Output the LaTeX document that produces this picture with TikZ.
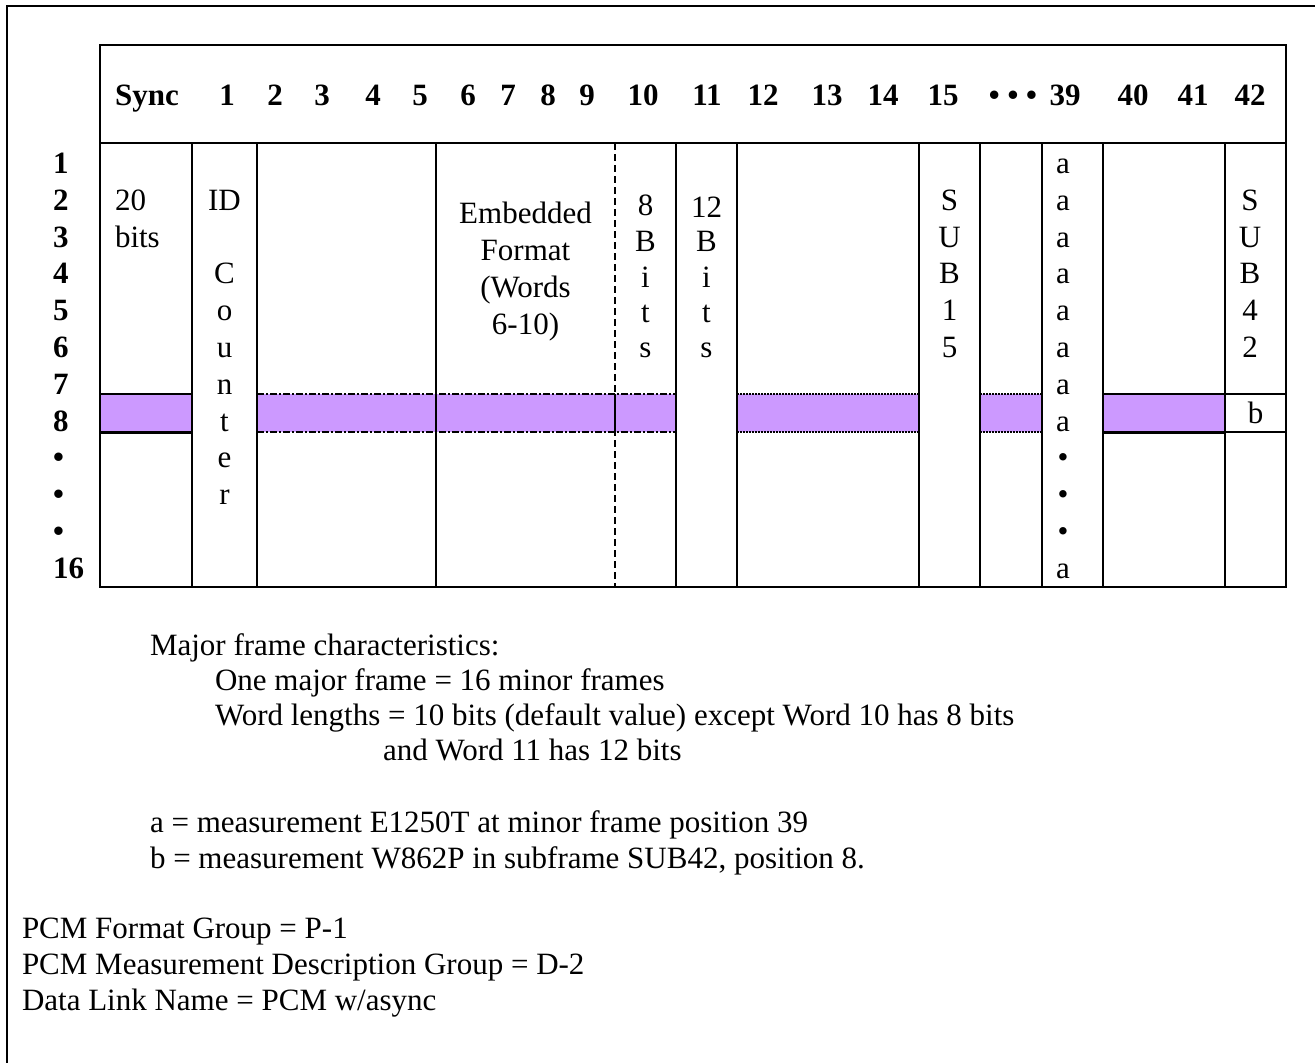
\documentclass[tikz,border=0pt]{standalone}
\usepackage{fontspec}
\setmainfont{Liberation Serif}
\definecolor{bandpurple}{HTML}{CC99FF}
\begin{document}
\begin{tikzpicture}[x=1pt,y=-1pt,
  font=\fontsize{31}{36}\selectfont,
  every node/.style={inner sep=0pt,outer sep=0pt},
  tline/.style={line width=2pt},
  hdr/.style={anchor=base,font=\fontsize{31}{36}\selectfont\bfseries},
  rowlbl/.style={anchor=base west,font=\fontsize{31}{36}\selectfont\bfseries},
  cell/.style={anchor=base},
  lcell/.style={anchor=base west},
  dashdotline/.style={line width=2pt,dash pattern=on 7pt off 2pt on 2pt off 2pt},
  dotline/.style={line width=2pt,dash pattern=on 2pt off 1pt},
  vdash/.style={line width=2pt,dash pattern=on 7pt off 4pt}]
\useasboundingbox (0,0) rectangle (1315,1063);
\clip (0,0) rectangle (1315,1063);
% outer frame
\draw[line width=2pt] (7,1080) -- (7,6) -- (1330,6);
% band fills
\fill[bandpurple] (100,394) rectangle (192,432);
\fill[bandpurple] (257,394) rectangle (676,432);
\fill[bandpurple] (737,394) rectangle (919,432);
\fill[bandpurple] (980,394) rectangle (1042,432);
\fill[bandpurple] (1103,394) rectangle (1225,432);
% band lines
\draw[tline] (100,394) -- (192,394);
\draw[line width=3pt] (100,432) -- (192,432);
\draw[dashdotline] (257,394) -- (676,394);
\draw[dashdotline] (257,432) -- (676,432);
\draw[dotline] (737,394) -- (919,394);
\draw[dotline] (737,432) -- (919,432);
\draw[dotline] (980,394) -- (1042,394);
\draw[dotline] (980,432) -- (1042,432);
\draw[tline] (1103,394) -- (1286,394);
\draw[line width=3pt] (1103,432) -- (1225,432);
\draw[tline] (1225,432) -- (1286,432);
% table
\draw[tline] (100,45) rectangle (1286,587);
\draw[tline] (100,143) -- (1286,143);
\foreach \x in {192,257,436,676,737,919,980,1042,1103,1225}
  \draw[tline] (\x,143) -- (\x,587);
\draw[vdash] (615,143) -- (615,587);
\draw[tline] (615,394) -- (615,432);
% header labels
\foreach \t/\x [count=\i] in {Sync/147,1/227,2/275,3/322,4/373,5/420,6/468,7/508,8/548,9/587,10/643,11/707,12/763,13/827,14/883,15/943,{• • •}/1013,39/1065,40/1133,41/1193,42/1250}
  \node[hdr] (h\i) at (\x,105) {\t};
% row labels
\foreach \t [count=\i] in {1,2,3,4,5,6,7,8,•,•,•,16}
  \node[rowlbl] (r\i) at (53,{173.4+(\i-1)*36.8}) {\t};
% sync column
\node[lcell] (sync1) at (115,210.2) {20};
\node[lcell] (sync2) at (115,247) {bits};
% ID counter
\foreach \t/\r [count=\i] in {ID/2,C/4,o/5,u/6,n/7,t/8,e/9,r/10}
  \node[cell] (id\i) at (224.5,{173.4+(\r-1)*36.8}) {\t};
% embedded format
\node[cell] (emb1) at (525.5,223) {Embedded};
\node[cell] (emb2) at (525.5,260) {Format};
\node[cell] (emb3) at (525.5,297) {(Words};
\node[cell] (emb4) at (525.5,334) {6-10)};
% 8 bits
\foreach \t/\y [count=\i] in {8/215,B/251,i/287,t/322,s/357}
  \node[cell] (eight\i) at (645.5,\y) {\t};
% 12 bits
\foreach \t/\y [count=\i] in {12/217,B/251,i/287,t/322,s/357}
  \node[cell] (twelve\i) at (706.5,\y) {\t};
% SUB15
\foreach \t [count=\i] in {S,U,B,1,5}
  \node[cell] (subA\i) at (949.5,{173.4+\i*36.8}) {\t};
% a column
\foreach \t [count=\i] in {a,a,a,a,a,a,a,a,•,•,•,a}
  \node[cell] (acol\i) at (1063,{173.4+(\i-1)*36.8}) {\t};
% SUB42
\foreach \t [count=\i] in {S,U,B,4,2}
  \node[cell] (subB\i) at (1250,{173.4+\i*36.8}) {\t};
\node[cell] (bcell) at (1255.5,423) {b};
% notes
\node[lcell] (n1) at (150,655) {Major frame characteristics:};
\node[lcell] (n2) at (215,690) {One major frame = 16 minor frames};
\node[lcell] (n3) at (215,725) {Word lengths = 10 bits (default value) except Word 10 has 8 bits};
\node[lcell] (n4) at (383,760) {and Word 11 has 12 bits};
\node[lcell] (n5) at (150,832) {a = measurement E1250T at minor frame position 39};
\node[lcell] (n6) at (150,868) {b = measurement W862P in subframe SUB42, position 8.};
\node[lcell] (p1) at (22,938) {PCM Format Group = P-1};
\node[lcell] (p2) at (22,974) {PCM Measurement Description Group = D-2};
\node[lcell] (p3) at (22,1010) {Data Link Name = PCM w/async};
\end{tikzpicture}
\end{document}
